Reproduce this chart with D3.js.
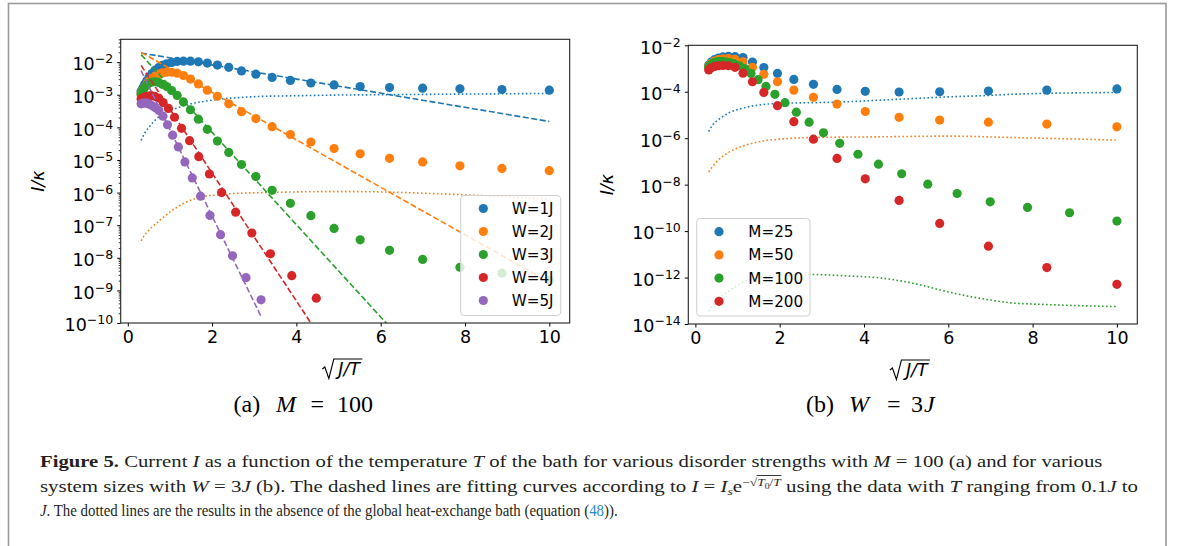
<!DOCTYPE html>
<html><head><meta charset="utf-8">
<script src="https://cdn.jsdelivr.net/npm/d3@7"></script>
<style>body{margin:0;background:#fff}svg{display:block}</style>
</head><body>
<svg id="c" width="1182" height="546"></svg>
<script>
// ---------------- DATA (log10 of I/kappa) ----------------
// x = sqrt(J/T) sample points
const xA30 = [0.316,0.356,0.401,0.452,0.509,0.573,0.646,0.728,0.820,0.924,1.040,1.172,1.320,1.487,1.675,1.887,2.126,2.395,2.698,3.039,3.424,3.857,4.344,4.894,5.513,6.210,6.995,7.880,8.877,10.0];
const xA20W4 = [0.316,0.363,0.418,0.480,0.552,0.635,0.730,0.839,0.965,1.109,1.275,1.466,1.685,1.937,2.227,2.560,2.943,3.384,3.890,4.472];
const xA20W5 = [0.316,0.357,0.403,0.455,0.514,0.580,0.655,0.739,0.834,0.942,1.063,1.200,1.355,1.530,1.727,1.950,2.201,2.485,2.805,3.162];
const xB20 = [0.316,0.379,0.455,0.546,0.654,0.785,0.941,1.129,1.354,1.624,1.947,2.336,2.801,3.360,4.030,4.833,5.796,6.952,8.338,10.0];

// panel (a): M = 100
const labelsA = ["W=1J","W=2J","W=3J","W=4J","W=5J"];
const logA_W1 = [-2.90,-2.79,-2.68,-2.57,-2.46,-2.35,-2.25,-2.17,-2.10,-2.05,-2.01,-1.98,-1.97,-1.97,-1.99,-2.03,-2.09,-2.16,-2.27,-2.37,-2.47,-2.56,-2.64,-2.70,-2.75,-2.78,-2.80,-2.82,-2.84,-2.86];
const logA_W2 = [-2.97,-2.87,-2.77,-2.67,-2.58,-2.50,-2.43,-2.37,-2.33,-2.31,-2.31,-2.34,-2.41,-2.52,-2.67,-2.86,-3.05,-3.28,-3.52,-3.73,-3.98,-4.22,-4.45,-4.65,-4.81,-4.95,-5.06,-5.18,-5.26,-5.33];
const logA_W3 = [-2.99,-2.87,-2.77,-2.70,-2.64,-2.61,-2.60,-2.62,-2.68,-2.75,-2.87,-3.02,-3.22,-3.46,-3.75,-4.06,-4.42,-4.77,-5.14,-5.51,-5.93,-6.33,-6.71,-7.10,-7.45,-7.77,-8.05,-8.29,-8.47,-8.69];
const logA_W4 = [-3.13,-3.09,-3.06,-3.04,-3.03,-3.05,-3.10,-3.24,-3.42,-3.69,-4.03,-4.41,-4.90,-5.43,-6.00,-6.60,-7.24,-7.88,-8.55,-9.24];
const logA_W5 = [-3.28,-3.26,-3.25,-3.26,-3.29,-3.34,-3.40,-3.48,-3.66,-3.92,-4.24,-4.60,-5.06,-5.55,-6.11,-6.70,-7.29,-7.94,-8.61,-9.29];
// dashed fits I = Is exp(-sqrt(T0/T)): end points [x], [log10 I]
const fitA_x = [[0.316,10],[0.316,10],[0.316,10],[0.316,4.472],[0.316,3.162]];
const fitA_log = [[-1.72,-3.82],[-1.70,-8.75],[-1.77,-15.48],[-2.10,-10.25],[-2.26,-9.80]];
// dotted (no global bath)
const dotA1_x = [0.316,0.4,0.5,0.6,0.7,0.85,1.0,1.17,1.35,1.56,1.88,2.2,2.6,3.0,4,5,6,7,8,9,10];
const dotA1_log = [-4.40,-4.18,-4.00,-3.85,-3.72,-3.57,-3.48,-3.41,-3.33,-3.26,-3.19,-3.13,-3.09,-3.06,-3.03,-3.01,-3.00,-2.99,-2.98,-2.97,-2.96];
const dotA2_x = [0.316,0.4,0.54,0.77,1.0,1.33,1.72,2.12,2.5,3.3,4,5,6,7,8,9,10];
const dotA2_log = [-7.48,-7.30,-7.10,-6.84,-6.60,-6.33,-6.14,-6.07,-6.03,-6.00,-5.98,-5.97,-5.98,-6.02,-6.07,-6.13,-6.20];

// panel (b): W = 3J
const labelsB = ["M=25","M=50","M=100","M=200"];
const logB_M25 = [-2.85,-2.72,-2.62,-2.55,-2.50,-2.48,-2.49,-2.53,-2.72,-2.96,-3.21,-3.47,-3.68,-3.90,-3.98,-4.01,-4.00,-3.97,-3.93,-3.88];
const logB_M50 = [-2.90,-2.78,-2.68,-2.62,-2.58,-2.57,-2.60,-2.71,-2.95,-3.25,-3.57,-3.93,-4.24,-4.53,-4.85,-5.10,-5.22,-5.31,-5.39,-5.51];
const logB_M100 = [-2.95,-2.86,-2.79,-2.74,-2.71,-2.70,-2.70,-2.71,-2.74,-2.80,-2.88,-3.00,-3.21,-3.48,-3.77,-4.11,-4.47,-4.88,-5.31,-5.77,-6.22,-6.69,-7.12,-7.53,-7.98,-8.38,-8.74,-8.98,-9.21,-9.57];
const logB_M200 = [-3.06,-2.97,-2.91,-2.88,-2.87,-2.88,-2.95,-3.20,-3.57,-4.03,-4.60,-5.29,-6.04,-6.87,-7.75,-8.68,-9.67,-10.65,-11.57,-12.29];
const dotB1_x = [0.316,0.4,0.5,0.6,0.8,1.0,1.25,1.6,2.0,2.8,3.6,4.4,5.2,6.0,6.8,7.5,8.3,10];
const dotB1_log = [-5.72,-5.45,-5.27,-5.13,-4.90,-4.77,-4.65,-4.55,-4.50,-4.47,-4.43,-4.36,-4.29,-4.22,-4.17,-4.11,-4.07,-4.03];
const dotB2_x = [0.316,0.5,0.8,1.2,1.6,2.0,2.8,4.4,6.0,7.5,10];
const dotB2_log = [-7.45,-7.02,-6.60,-6.30,-6.12,-6.04,-5.97,-5.94,-5.91,-5.97,-6.08];
const dotB3_x = [0.316,0.5,0.8,1.2,1.6,2.0,2.8,3.6,4.4,5.2,6.0,6.8,7.5,8.3,10];
const dotB3_log = [-13.45,-13.00,-12.57,-12.15,-11.97,-11.90,-11.87,-11.93,-12.02,-12.26,-12.62,-12.91,-13.09,-13.16,-13.25];

// tick values
const xTickVals = [0,2,4,6,8,10];
const yMajorA = [-10,-9,-8,-7,-6,-5,-4,-3,-2];
const yMajorB = [-14,-12,-10,-8,-6,-4,-2];

// ---------------- DRAWING ----------------
const colors = ["#1f77b4","#ff7f0e","#2ca02c","#d62728","#9467bd"];
const svg = d3.select("#c");
const FONT = "DejaVu Sans";

// outer frame
svg.append("rect").attr("x",8.5).attr("y",3.5).attr("width",1157.5).attr("height",600)
  .attr("fill","none").attr("stroke","#9a9a9a").attr("stroke-width",1.6);

function panel(id, xr, yr, ydom, majors, showMinor, series, fits, dots, legend, ylabelX, xlabelY) {
  const x = d3.scaleLinear().domain([-0.168, 10.484]).range(xr);
  const y = d3.scaleLog().domain(ydom).range(yr);
  const g = svg.append("g");
  const clipId = "clip" + id;
  g.append("clipPath").attr("id", clipId).append("rect")
    .attr("x", xr[0]).attr("y", yr[1]).attr("width", xr[1]-xr[0]).attr("height", yr[0]-yr[1]);

  // x axis
  const xa = g.append("g").attr("transform", `translate(0,${yr[0]})`)
    .call(d3.axisBottom(x).tickValues(xTickVals).tickSize(3.5).tickPadding(4.5).tickFormat(d3.format("d")));
  xa.select(".domain").remove();
  xa.attr("font-family", FONT).attr("font-size", 17.5);
  xa.selectAll("line").attr("stroke","#000");
  xa.selectAll("text").attr("fill","#000");

  // y axis majors
  const ya = g.append("g").attr("transform", `translate(${xr[0]},0)`)
    .call(d3.axisLeft(y).tickValues(majors.map(e => Math.pow(10, e))).tickSize(3.5).tickPadding(4).tickFormat(""));
  ya.select(".domain").remove();
  ya.attr("font-family", FONT).attr("font-size", 17.5);
  ya.selectAll("line").attr("stroke","#000");
  ya.selectAll(".tick text").each(function(d) {
    const t = d3.select(this).attr("fill","#000").attr("dy", null).attr("y", 7.8);
    const e = Math.round(Math.log10(d));
    t.append("tspan").text("10");
    t.append("tspan").attr("font-size", 12.5).attr("dy", -7).text("\u2212" + Math.abs(e));
  });
  if (showMinor) {
    const minors = y.ticks().filter(v => Math.abs(Math.log10(v) - Math.round(Math.log10(v))) > 1e-6);
    const ym = g.append("g").attr("transform", `translate(${xr[0]},0)`)
      .call(d3.axisLeft(y).tickValues(minors).tickSize(2).tickFormat(""));
    ym.select(".domain").remove();
    ym.selectAll("line").attr("stroke","#000").attr("stroke-width",0.8);
  }

  // data
  const plot = g.append("g").attr("clip-path", `url(#${clipId})`);
  const line = d3.line().x(d => x(d[0])).y(d => y(Math.pow(10, d[1]))).curve(d3.curveMonotoneX);
  series.forEach((s, i) => {
    plot.append("g").selectAll("circle").data(d3.zip(s.x, s.ly)).join("circle")
      .attr("cx", d => x(d[0])).attr("cy", d => y(Math.pow(10, d[1]))).attr("r", 4.6)
      .attr("fill", colors[i]);
    if (fits && fits[i]) {
      plot.append("path").attr("d", line(d3.zip(fits[i].x, fits[i].ly)))
        .attr("fill","none").attr("stroke", colors[i]).attr("stroke-width",1.6)
        .attr("stroke-dasharray","6,2.6");
    }
    if (dots && dots[i]) {
      plot.append("path").attr("d", line(d3.zip(dots[i].x, dots[i].ly)))
        .attr("fill","none").attr("stroke", colors[i]).attr("stroke-width",1.6)
        .attr("stroke-dasharray","1.6,2.4");
    }
  });

  // spines
  g.append("rect").attr("x", xr[0]).attr("y", yr[1]).attr("width", xr[1]-xr[0]).attr("height", yr[0]-yr[1])
    .attr("fill","none").attr("stroke","#222").attr("stroke-width",1.1);

  // legend
  const lg = g.append("g");
  lg.append("rect").attr("x", legend.x).attr("y", legend.y).attr("width", legend.w).attr("height", legend.h)
    .attr("rx", 3.5).attr("fill","#fff").attr("fill-opacity",0.8).attr("stroke","#d0d0d0").attr("stroke-width",1);
  series.forEach((s, i) => {
    const yy = legend.y + legend.first + i * legend.step;
    lg.append("circle").attr("cx", legend.x + legend.mx).attr("cy", yy).attr("r", 4.6).attr("fill", colors[i]);
    lg.append("text").attr("x", legend.x + legend.tx).attr("y", yy + 5.5).attr("font-family", FONT)
      .attr("font-size", 15.2).attr("fill","#000").text(s.name);
  });

  // y label  I/kappa
  const cy = (yr[0] + yr[1]) / 2;
  svg.append("text").attr("transform", `translate(${ylabelX},${cy}) rotate(-90)`)
    .attr("text-anchor","middle").attr("font-family", FONT).attr("font-size", 17.5).attr("font-style","italic")
    .text("I/\u03ba");

  // x label sqrt(J/T)
  const cx = (xr[0] + xr[1]) / 2 + 4;
  const xl = svg.append("text").attr("x", cx).attr("y", xlabelY).attr("text-anchor","middle")
    .attr("font-family", FONT).attr("font-size", 17.5).attr("font-style","italic").text("J/T");
  const bb = xl.node().getBBox();
  const top = xlabelY - 16, bot = xlabelY + 3.5;
  svg.append("path").attr("d",
    `M${bb.x-13},${xlabelY-6} L${bb.x-10.5},${xlabelY-8} L${bb.x-6.5},${bot} L${bb.x-1.5},${top} L${bb.x+bb.width+1},${top}`)
    .attr("fill","none").attr("stroke","#000").attr("stroke-width",1.1);
}

const seriesA = [
  {name: labelsA[0], x: xA30, ly: logA_W1},
  {name: labelsA[1], x: xA30, ly: logA_W2},
  {name: labelsA[2], x: xA30, ly: logA_W3},
  {name: labelsA[3], x: xA20W4, ly: logA_W4},
  {name: labelsA[4], x: xA20W5, ly: logA_W5}
];
const fitsA = fitA_x.map((fx, i) => ({x: fx, ly: fitA_log[i]}));
const dotsA = [{x: dotA1_x, ly: dotA1_log}, {x: dotA2_x, ly: dotA2_log}];
panel("A", [120.7, 569.7], [323, 39.3], [1e-10, Math.pow(10, -1.30)], yMajorA, true,
  seriesA, fitsA, dotsA, {x: 460.7, y: 195.5, w: 100, h: 120, first: 13, step: 23, mx: 22.6, tx: 51}, 44, 375);

const seriesB = [
  {name: labelsB[0], x: xB20, ly: logB_M25},
  {name: labelsB[1], x: xB20, ly: logB_M50},
  {name: labelsB[2], x: xA30, ly: logB_M100},
  {name: labelsB[3], x: xB20, ly: logB_M200}
];
const dotsB = [{x: dotB1_x, ly: dotB1_log}, {x: dotB2_x, ly: dotB2_log}, {x: dotB3_x, ly: dotB3_log}];
panel("B", [688.3, 1137.3], [324, 45.3], [1e-14, 1e-2], yMajorB, false,
  seriesB, null, dotsB, {x: 696.7, y: 218.5, w: 113.3, h: 97.5, first: 13.2, step: 23.2, mx: 22.3, tx: 51.6}, 613, 376);

// sub captions
function subcap(parts, yb) {
  parts.forEach(p => {
    svg.append("text").attr("x", p.x).attr("y", yb).attr("font-family","Liberation Serif")
      .attr("font-size", 24).attr("font-style", p.i ? "italic" : "normal").attr("fill","#000").text(p.t);
  });
}
subcap([{t:"(a)", x:233.5},{t:"M", x:276, i:true},{t:"=", x:310.5},{t:"100", x:337}], 412);
subcap([{t:"(b)", x:806},{t:"W", x:849, i:true},{t:"=", x:887},{t:"3", x:911},{t:"J", x:924, i:true}], 412);

// caption: each line fitted between its measured start and end
function captionLine(parts, x0, yb, xEnd) {
  const g = svg.append("g");
  const t = g.append("text").attr("x",0).attr("y",0).attr("font-family","Liberation Serif")
    .attr("font-size",17).attr("fill","#231f20");
  let off = 0, idx = 0, olStart = -1, olEnd = -1;
  parts.forEach(p => {
    const sh = p.shift || 0;
    const ts = t.append("tspan").attr("dy", sh - off).text(p.t);
    off = sh;
    if (p.i) ts.attr("font-style","italic");
    if (p.b) ts.attr("font-weight","bold");
    if (p.size) ts.attr("font-size", p.size);
    if (p.fill) ts.attr("fill", p.fill);
    if (p.ol) { if (olStart < 0) olStart = idx; olEnd = idx + p.t.length - 1; }
    idx += p.t.length;
  });
  const w = t.node().getComputedTextLength();
  const k = (xEnd - x0) / w;
  g.attr("transform", `translate(${x0},${yb}) scale(${k},1)`);
  if (olStart >= 0) {
    const n = t.node();
    const a = n.getStartPositionOfChar(olStart).x - 0.5, b = n.getEndPositionOfChar(olEnd).x + 0.5;
    g.append("line").attr("x1", a).attr("x2", b).attr("y1", -16.5).attr("y2", -16.5)
      .attr("stroke","#231f20").attr("stroke-width",0.8);
  }
}
const SUP = -6.5, SUB0 = -3.5;
captionLine([
  {t:"Figure 5.", b:true}, {t:" Current "}, {t:"I", i:true}, {t:" as a function of the temperature "},
  {t:"T", i:true}, {t:" of the bath for various disorder strengths with "}, {t:"M", i:true},
  {t:" = 100 (a) and for various"}
], 40, 467, 1103);
captionLine([
  {t:"system sizes with "}, {t:"W", i:true}, {t:" = 3"}, {t:"J", i:true},
  {t:" (b). The dashed lines are fitting curves according to "}, {t:"I", i:true}, {t:" = "},
  {t:"I", i:true}, {t:"s", i:true, size:11, shift:3}, {t:"e"}, {t:"\u2212\u221a", size:11, shift:SUP},
  {t:"T", i:true, size:11, shift:SUP, ol:true}, {t:"0", size:8, shift:SUB0, ol:true},
  {t:"/", size:11, shift:SUP, ol:true}, {t:"T", i:true, size:11, shift:SUP, ol:true},
  {t:" using the data with "}, {t:"T", i:true}, {t:" ranging from 0.1"}, {t:"J", i:true}, {t:" to"}
], 40, 492, 1139);
captionLine([
  {t:"J", i:true}, {t:". The dotted lines are the results in the absence of the global heat-exchange bath (equation ("},
  {t:"48", fill:"#2b8cc4"}, {t:"))."}
], 40, 516, 618);
</script>
</body></html>
